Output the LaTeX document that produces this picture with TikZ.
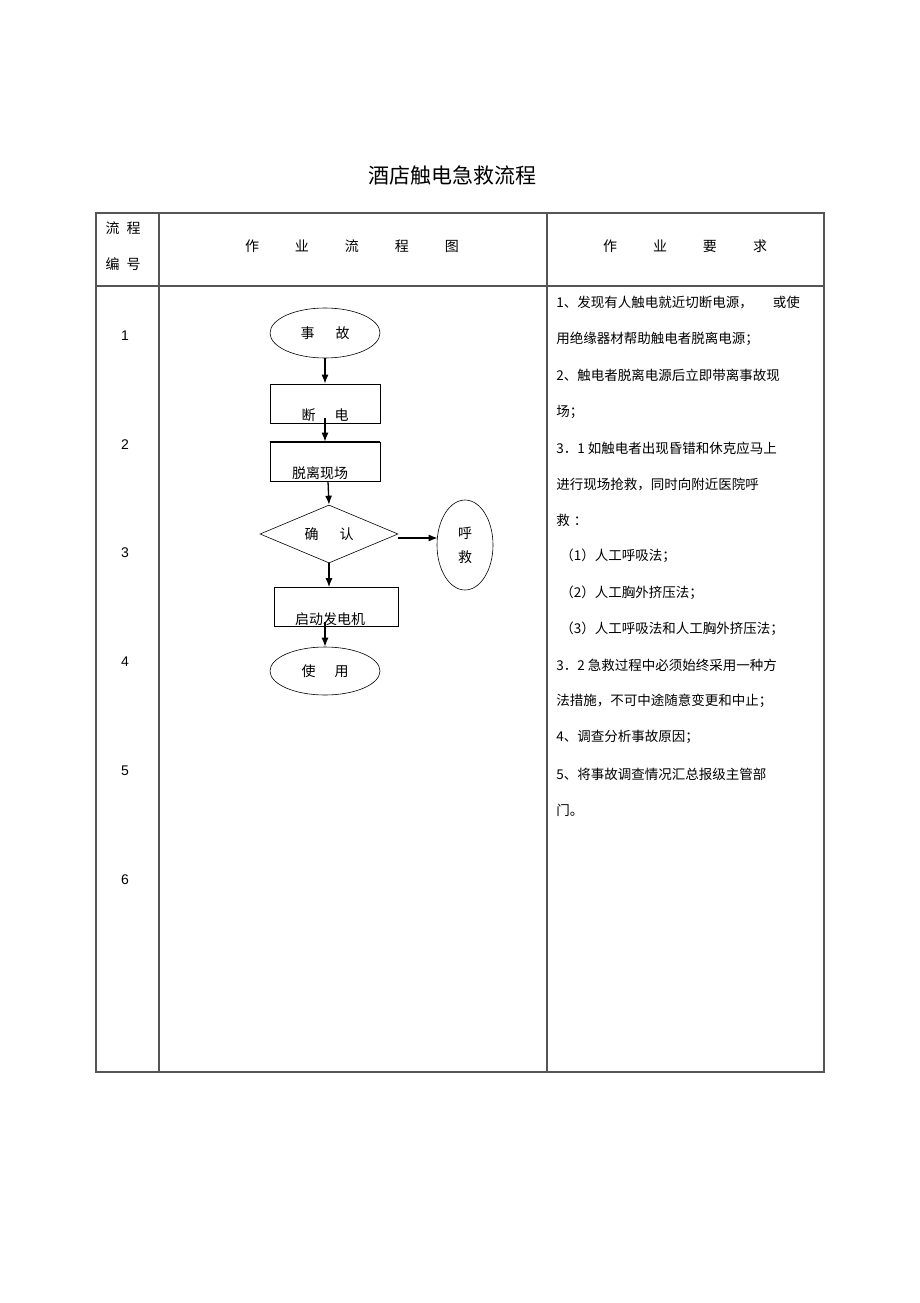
\documentclass[tikz,border=0pt]{standalone}
\usepackage{fontspec}
\setmainfont{Noto Sans CJK SC}
\newfontfamily\numfont{Liberation Sans}
\usetikzlibrary{arrows.meta,shapes.geometric}
\definecolor{grid_gray}{RGB}{85,85,85}

\begin{document}
\begin{tikzpicture}[x=1pt,y=-1pt,->,>={Latex[length=9pt,width=7pt]},semithick]
    \tikzstyle{cell}=[-, draw=grid_gray, line width=1.3pt]
    \tikzstyle{txt}=[inner sep=0pt, font=\fontsize{14pt}{16pt}\selectfont]
    \tikzstyle{req}=[txt, anchor=west, font=\fontsize{13.5pt}{16pt}\selectfont]
    \tikzstyle{num}=[inner sep=0pt, font=\numfont\fontsize{14pt}{16pt}\selectfont]
    \tikzstyle{term}=[draw=black, ellipse, minimum width=110pt, minimum height=50pt, inner sep=0pt, txt]
    \tikzstyle{procbox}=[draw=black, rectangle, minimum width=110pt, minimum height=39pt, inner sep=0pt]
    \tikzstyle{check}=[draw=black, diamond, aspect=2.4, minimum width=138pt, minimum height=58pt, inner sep=0pt, txt]
    \tikzstyle{flow}=[line width=1.3pt]

    \useasboundingbox (0,0) rectangle (920,1303);

    % title
    \node[inner sep=0pt, font=\fontsize{21pt}{24pt}\selectfont] (title) at (452,175) {酒店触电急救流程};

    % table frame
    \draw[cell] (96,213) rectangle (824,1072);
    \draw[cell] (96,286) -- (824,286);
    \draw[cell] (159,213) -- (159,1072);
    \draw[cell] (547,213) -- (547,1072);

    % header
    \node[txt] (hdnoa)  at (123,228) {流\hspace{7pt}程};
    \node[txt] (hdnob)  at (123,264) {编\hspace{7pt}号};
    \node[txt] (hdflow) at (352,246) {作\hspace{36pt}业\hspace{36pt}流\hspace{36pt}程\hspace{36pt}图};
    \node[txt] (hdreq)  at (685,246) {作\hspace{36pt}业\hspace{36pt}要\hspace{36pt}求};

    % step numbers
    \node[num] (n1) at (125,336) {1};
    \node[num] (n2) at (125,445) {2};
    \node[num] (n3) at (125,553) {3};
    \node[num] (n4) at (125,662) {4};
    \node[num] (n5) at (125,771) {5};
    \node[num] (n6) at (125,880) {6};

    % flow chart
    \node[term]    (acc)  at (325,333)   {事\hspace{21pt}故};
    \node[procbox] (cut)  at (325,403.5) {};
    \node[txt, anchor=south] (cutl)  at ([yshift=1pt]cut.south) {断\hspace{19pt}电};
    \node[procbox] (away) at (325,461.5) {};
    \draw[-, line width=1.6pt] (away.north west) -- (away.north east);
    \node[txt, anchor=south] (awayl) at ([xshift=-5pt,yshift=1pt]away.south) {脱离现场};
    \node[check]   (conf) at (329,534)   {确\hspace{21pt}认};
    \node[draw=black, ellipse, minimum width=56pt, minimum height=90pt, inner sep=0pt, txt, align=center]
                   (help) at (465,545)   {呼\\[8pt]救};
    \node[procbox, minimum width=124pt] (gen) at (336,607) {};
    \node[txt, anchor=south] (genl)  at ([xshift=-6pt,yshift=1pt]gen.south) {启动发电机};
    \node[term, minimum height=48pt] (use) at (325,671) {使\hspace{19pt}用};
    \coordinate (helpin) at (help.west |- conf.east);

    \path[flow]
     (acc.south)               edge[] (cut.north)
     ([yshift=5pt]cut.south)   edge[] (away.north)
     ([xshift=3pt]away.south)  edge[] (conf.north)
     ([yshift=-4pt]conf.east)  edge[] ([xshift=1pt,yshift=-4pt]helpin)
     (conf.south)              edge[] ([xshift=-7pt]gen.north)
     ([xshift=-11pt,yshift=5pt]gen.south) edge[] (use.north)
     ;

    % requirements
    \node[req] (r1)  at (556,303) {1、发现有人触电就近切断电源，\hspace{20pt}或使};
    \node[req] (r2)  at (556,339) {用绝缘器材帮助触电者脱离电源；};
    \node[req] (r3)  at (556,375) {2、触电者脱离电源后立即带离事故现};
    \node[req] (r4)  at (556,412) {场；};
    \node[req] (r5)  at (556,448) {3．1 如触电者出现昏错和休克应马上};
    \node[req] (r6)  at (556,484) {进行现场抢救，同时向附近医院呼};
    \node[req] (r7)  at (556,520) {救\hspace{4pt}：};
    \node[req] (r8)  at (556,556) {\hspace{4pt}（1）人工呼吸法；};
    \node[req] (r9)  at (556,593) {\hspace{4pt}（2）人工胸外挤压法；};
    \node[req] (r10) at (556,629) {\hspace{4pt}（3）人工呼吸法和人工胸外挤压法；};
    \node[req] (r11) at (556,665) {3．2 急救过程中必须始终采用一种方};
    \node[req] (r12) at (556,701) {法措施，不可中途随意变更和中止；};
    \node[req] (r13) at (556,737) {4、调查分析事故原因；};
    \node[req] (r14) at (556,774) {5、将事故调查情况汇总报级主管部};
    \node[req] (r15) at (556,810) {门。};
\end{tikzpicture}
\end{document}
